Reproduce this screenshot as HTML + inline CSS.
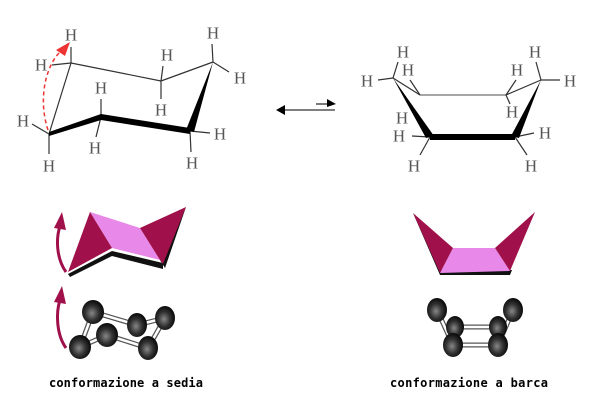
<!DOCTYPE html>
<html><head><meta charset="utf-8"><style>
html,body{margin:0;padding:0;background:#fff;}
svg{display:block}
.h{font-family:"Liberation Serif",serif;font-size:17px;fill:#555;text-anchor:middle;dominant-baseline:central}
.t{font-family:"DejaVu Sans Mono","Liberation Mono",monospace;font-size:12px;font-weight:bold;fill:#000}
</style></head><body>
<svg width="602" height="403" viewBox="0 0 602 403">
<defs>
<radialGradient id="ball" cx="0.45" cy="0.55" r="0.6">
<stop offset="0" stop-color="#888"/><stop offset="0.5" stop-color="#333"/><stop offset="1" stop-color="#000"/>
</radialGradient>
</defs>
<!-- chair skeletal -->
<g stroke="#333" stroke-width="1.2" fill="none">
<line x1="71" y1="63" x2="161" y2="81"/>
<line x1="161" y1="81" x2="213" y2="62"/>
<line x1="49" y1="134" x2="71" y2="63"/>
<line x1="71" y1="63" x2="71" y2="47"/>
<line x1="71" y1="63" x2="52" y2="65"/>
<line x1="161" y1="81" x2="163" y2="66"/>
<line x1="161" y1="81" x2="161" y2="99"/>
<line x1="213" y1="62" x2="212" y2="44"/>
<line x1="213" y1="62" x2="229" y2="72"/>
<line x1="101" y1="117" x2="101" y2="99"/>
<line x1="101" y1="117" x2="96" y2="137"/>
<line x1="49" y1="134" x2="32" y2="124"/>
<line x1="49" y1="134" x2="49" y2="154"/>
<line x1="190" y1="131" x2="210" y2="133"/>
<line x1="190" y1="131" x2="191" y2="152"/>
</g>
<polygon points="213,62 194,132 186,130" fill="#000"/>
<polygon points="101,114 190,128 190,134 101,120" fill="#000"/>
<polygon points="49,132 101,114 101,120 49,136" fill="#000"/>
<path d="M48,130 C38,100 45,65 62,50" stroke="#e33" stroke-width="1.5" stroke-dasharray="4,3" fill="none"/>
<polygon points="56,50 70,42 65,56" fill="#e33"/>
<g class="h">
<text x="71" y="35">H</text><text x="41" y="65">H</text><text x="167" y="55">H</text>
<text x="161" y="110">H</text><text x="213" y="33">H</text><text x="240" y="78">H</text>
<text x="101" y="88">H</text><text x="95" y="148">H</text><text x="23" y="121">H</text>
<text x="49" y="166">H</text><text x="220" y="134">H</text><text x="192" y="163">H</text>
</g>
<!-- equilibrium arrow -->
<line x1="282" y1="110" x2="335" y2="110" stroke="#333" stroke-width="1.3"/>
<polygon points="276,110 285,105 285,115" fill="#000"/>
<line x1="316" y1="104" x2="330" y2="104" stroke="#333" stroke-width="1.3"/>
<polygon points="336,104 327,99 327,107" fill="#000"/>
<!-- boat skeletal -->
<g stroke="#333" stroke-width="1.2" fill="none">
<line x1="393" y1="78" x2="420" y2="95"/>
<line x1="420" y1="95" x2="506" y2="95" stroke="#888" stroke-width="1.6"/>
<line x1="506" y1="95" x2="541" y2="80"/>
<line x1="393" y1="78" x2="398" y2="62"/>
<line x1="393" y1="78" x2="378" y2="80"/>
<line x1="420" y1="95" x2="410" y2="80"/>
<line x1="506" y1="95" x2="516" y2="80"/>
<line x1="506" y1="95" x2="510" y2="104"/>
<line x1="541" y1="80" x2="536" y2="62"/>
<line x1="541" y1="80" x2="560" y2="80"/>
<line x1="430" y1="137" x2="412" y2="136"/>
<line x1="430" y1="137" x2="420" y2="155"/>
<line x1="515" y1="137" x2="534" y2="133"/>
<line x1="515" y1="137" x2="527" y2="155"/>
</g>
<polygon points="393,78 434,136 426,138" fill="#000"/>
<polygon points="541,80 519,138 511,136" fill="#000"/>
<polygon points="430,134 515,134 515,140 430,140" fill="#000"/>
<g class="h">
<text x="403" y="52">H</text><text x="408" y="70">H</text><text x="367" y="81">H</text>
<text x="402" y="118">H</text><text x="399" y="136">H</text><text x="414" y="166">H</text>
<text x="517" y="70">H</text><text x="512" y="112">H</text><text x="535" y="52">H</text>
<text x="570" y="81">H</text><text x="545" y="133">H</text><text x="531" y="166">H</text>
</g>
<!-- chair 3D -->
<polygon points="68,274 112,251 163,263 163,269 112,256 70,277" fill="#111"/>
<polygon points="160,260 186,207 165,268" fill="#111"/>
<polygon points="90,212 140,228 160,260 112,248" fill="#e888e8"/>
<polygon points="90,212 68,272 112,248" fill="#a0104a"/>
<polygon points="140,228 186,207 163,264 160,260" fill="#a0104a"/>
<g stroke="#a0104a" stroke-width="3" fill="none">
<path d="M66,272 C56,258 56,238 60,226"/>
<path d="M66,348 C56,334 56,312 60,300"/>
</g>
<polygon points="54,228 62,212 66,230" fill="#a0104a"/>
<polygon points="54,302 62,286 66,304" fill="#a0104a"/>
<g stroke="#555" stroke-width="5">
<line x1="93" y1="312" x2="137" y2="325"/><line x1="80" y1="347" x2="107" y2="335"/>
<line x1="107" y1="335" x2="148" y2="348"/><line x1="137" y1="325" x2="165" y2="318"/>
<line x1="165" y1="318" x2="148" y2="348"/><line x1="93" y1="312" x2="80" y2="347"/>
</g>
<g stroke="#fff" stroke-width="2.5">
<line x1="93" y1="312" x2="137" y2="325"/><line x1="80" y1="347" x2="107" y2="335"/>
<line x1="107" y1="335" x2="148" y2="348"/><line x1="137" y1="325" x2="165" y2="318"/>
<line x1="165" y1="318" x2="148" y2="348"/><line x1="93" y1="312" x2="80" y2="347"/>
</g>
<g fill="url(#ball)">
<ellipse cx="93" cy="312" rx="11" ry="12"/><ellipse cx="137" cy="325" rx="10" ry="12"/>
<ellipse cx="165" cy="318" rx="10" ry="12"/><ellipse cx="80" cy="347" rx="11" ry="12"/>
<ellipse cx="107" cy="335" rx="11" ry="12"/><ellipse cx="148" cy="348" rx="10" ry="12"/>
</g>
<!-- boat 3D -->
<polygon points="413,213 440,275 510,275 512,270 442,270" fill="#111"/>
<polygon points="510,275 535,212 512,270" fill="#111"/>
<polygon points="453,248 495,248 510,271 440,273" fill="#e888e8"/>
<polygon points="413,213 453,248 440,273" fill="#a0104a"/>
<polygon points="495,248 535,212 510,271" fill="#a0104a"/>
<g stroke="#555" stroke-width="5">
<line x1="437" y1="310" x2="453" y2="345"/><line x1="455" y1="327" x2="498" y2="327"/>
<line x1="453" y1="345" x2="498" y2="345"/><line x1="513" y1="310" x2="498" y2="345"/>
</g>
<g stroke="#fff" stroke-width="2.5">
<line x1="437" y1="310" x2="453" y2="345"/><line x1="455" y1="327" x2="498" y2="327"/>
<line x1="453" y1="345" x2="498" y2="345"/><line x1="513" y1="310" x2="498" y2="345"/>
</g>
<g fill="url(#ball)">
<ellipse cx="437" cy="310" rx="10" ry="12"/><ellipse cx="513" cy="310" rx="10" ry="12"/>
<ellipse cx="455" cy="327" rx="9" ry="11"/><ellipse cx="498" cy="327" rx="9" ry="11"/>
<ellipse cx="453" cy="345" rx="10" ry="12"/><ellipse cx="498" cy="345" rx="10" ry="12"/>
</g>
<text class="t" x="49" y="387" textLength="154">conformazione a sedia</text>
<text class="t" x="390" y="387" textLength="158">conformazione a barca</text>
</svg>
</body></html>
